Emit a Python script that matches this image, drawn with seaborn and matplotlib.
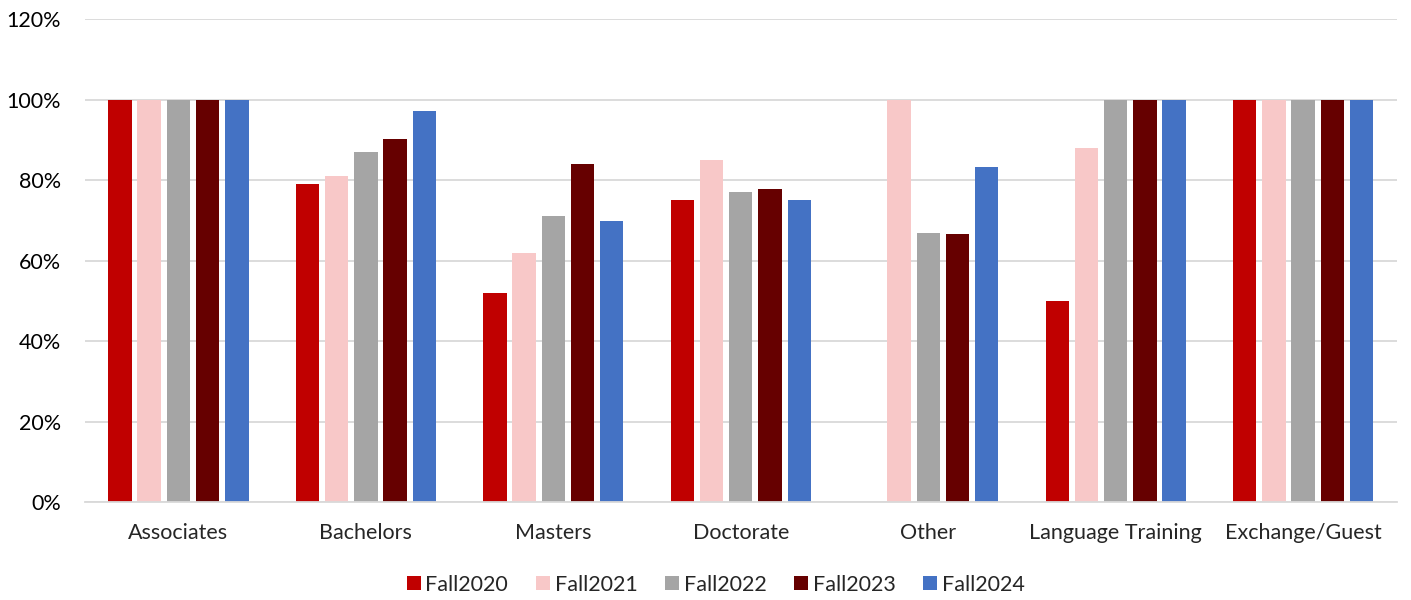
import pandas as pd
import numpy as np
import matplotlib
matplotlib.use("Agg")
import matplotlib.pyplot as plt
import seaborn as sns
from matplotlib.ticker import PercentFormatter, FixedLocator
from matplotlib.lines import Line2D

categories = ['Associates', 'Bachelors', 'Masters', 'Doctorate', 'Other',
              'Language Training', 'Exchange/Guest']
terms = ['Fall2020', 'Fall2021', 'Fall2022', 'Fall2023', 'Fall2024']

# share (%) per term
fall2020 = [100, 79, 52, 75, 0, 50, 100]
fall2021 = [100, 81, 62, 85, 100, 88, 100]
fall2022 = [100, 87, 71, 77, 67, 100, 100]
fall2023 = [100, 90.2, 84.1, 77.8, 66.7, 100, 100]
fall2024 = [100, 97.1, 69.8, 75, 83.3, 100, 100]

colors = ['#C00000', '#F8C8C8', '#A5A5A5', '#660000', '#4472C4']

series = [fall2020, fall2021, fall2022, fall2023, fall2024]
rows = []
for term, vals in zip(terms, series):
    for cat, v in zip(categories, vals):
        rows.append({'Level': cat, 'Term': term, 'Pct': v})
df = pd.DataFrame(rows)

sns.set_style('white')
plt.rcParams['font.family'] = ['Lato', 'DejaVu Sans']

fig = plt.figure(figsize=(14.11, 6.0), dpi=100)
ax = fig.add_axes([0.060, 0.163, 0.930, 0.805])

sns.barplot(data=df, x='Level', y='Pct', hue='Term', order=categories,
            hue_order=terms, palette=colors, saturation=1, width=0.78, gap=0.2,
            linewidth=0, legend=False, ax=ax)

ax.set_ylim(0, 120)
ax.set_xlim(-0.5, len(categories) - 0.5)
ax.yaxis.set_major_locator(FixedLocator(np.arange(0, 121, 20)))
ax.yaxis.set_major_formatter(PercentFormatter(decimals=0))
ax.yaxis.grid(True, color='#D9D9D9', linewidth=1.3)
ax.set_axisbelow(True)
ax.set_xlabel('')
ax.set_ylabel('')

for s in ['top', 'right', 'left']:
    ax.spines[s].set_visible(False)
ax.spines['bottom'].set_color('#D9D9D9')
ax.spines['bottom'].set_linewidth(1.3)

ax.tick_params(axis='y', length=0, labelsize=15.5, pad=17, colors='#000000')
ax.tick_params(axis='x', which='major', length=0, labelsize=15.5, pad=15)
ax.xaxis.set_minor_locator(FixedLocator(np.arange(-0.5, len(categories), 1)))
ax.tick_params(axis='x', which='minor', length=6, width=1.3, color='#D9D9D9')

handles = [Line2D([], [], marker='s', linestyle='', markersize=9.5,
                  markerfacecolor=c, markeredgewidth=0) for c in colors]
fig.legend(handles, terms, loc='center', bbox_to_anchor=(0.507, 0.025),
           ncol=5, frameon=False, fontsize=15.5, handletextpad=0.2,
           columnspacing=1.25, handlelength=0.7)

fig.savefig('out.png', dpi=100)
